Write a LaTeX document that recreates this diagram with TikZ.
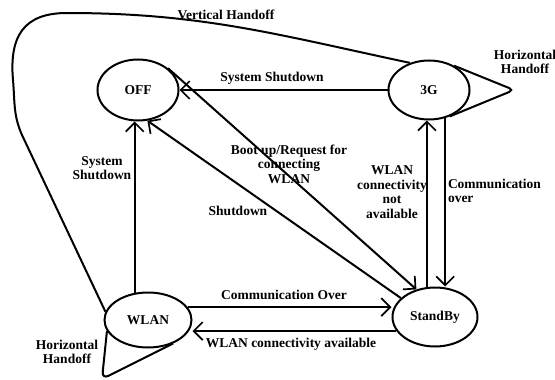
\documentclass[tikz,border=0pt]{standalone}
\usepackage{fontspec}
\setmainfont{Liberation Serif}
\usetikzlibrary{arrows.meta,shapes.geometric}

\begin{document}
\begin{tikzpicture}[x=1pt,y=-1pt,line width=2pt,
  state/.style={ellipse,draw,inner sep=0pt,font=\fontsize{13.5}{14.5}\selectfont\bfseries},
  lbl/.style={font=\fontsize{13.5}{14.5}\selectfont\bfseries,align=center,inner sep=1pt},
  arr/.style={-{Straight Barb[length=9pt,width=18pt,line width=1.7pt]}}]
  \useasboundingbox (0,0) rectangle (555,380);

  \node[state,minimum width=81pt,minimum height=61pt] (off) at (138,90) {OFF};      %States
  \node[state,minimum width=81pt,minimum height=59pt] (g3) at (429,90) {3G};
  \node[state,minimum width=87pt,minimum height=55pt] (wlan) at (148,320) {WLAN};
  \node[state,minimum width=85pt,minimum height=59pt] (sb) at (435,317) {StandBy};

  \draw[arr] (g3.west) -- (off.east);                   %3G to OFF
  \draw[arr] (wlan.116) -- (wlan.116 |- off.south);     %WLAN to OFF
  \draw[arr] (off.36) -- (sb.124);                      %OFF to StandBy
  \draw[arr] (sb.151) -- (off.287);                     %StandBy to OFF
  \draw[arr] (sb.105) -- (sb.105 |- g3.south);          %StandBy to 3G
  \draw[arr] (g3.300) -- (g3.300 |- sb.north);          %3G to StandBy
  \draw[arr] (wlan.18) -- (wlan.18 -| sb.west);         %WLAN to StandBy
  \draw[arr] (sb.200) -- (sb.200 -| wlan.east);         %StandBy to WLAN

  \coordinate (g3loop) at (514,90);
  \draw[rounded corners=5pt] (g3.44) -- (g3loop) -- (g3.308);        %3G self loop
  \coordinate (wlanloop) at (102,379);
  \draw[rounded corners=7pt] (wlan.195) -- (wlanloop) -- (wlan.317); %WLAN self loop

  \coordinate (vtop) at (67,13);
  \coordinate (vleft) at (13,80);
  \coordinate (vbend) at (22,135);
  \draw (g3.125) to[out=168,in=0] (vtop) to[out=180,in=95,looseness=1.3] (vleft)
        to[out=-85,in=114] (vbend) -- (wlan.169);                   %Vertical handoff

  \node[lbl] (lvh) at (226,15) {Vertical Handoff};
  \node[lbl] (lss) at (272,78) {System Shutdown};
  \node[lbl] (lsys) at (102,168) {System\\Shutdown};
  \node[lbl] (lboot) at (289,164) {Boot up/Request for\\connecting\\WLAN};
  \node[lbl] (lsd) at (238,211) {Shutdown};
  \node[lbl] (lnot) at (392,192) {WLAN\\connectivity\\not\\available};
  \node[lbl,align=left,anchor=west] (lcomm) at (446,191) {Communication\\over};
  \node[lbl] (lco) at (284,295) {Communication Over};
  \node[lbl] (lavail) at (291,344) {WLAN connectivity available};
  \node[lbl] (lhh) at (525,62) {Horizontal\\Handoff};
  \node[lbl] (lhw) at (67,352) {Horizontal\\Handoff};
\end{tikzpicture}
\end{document}
